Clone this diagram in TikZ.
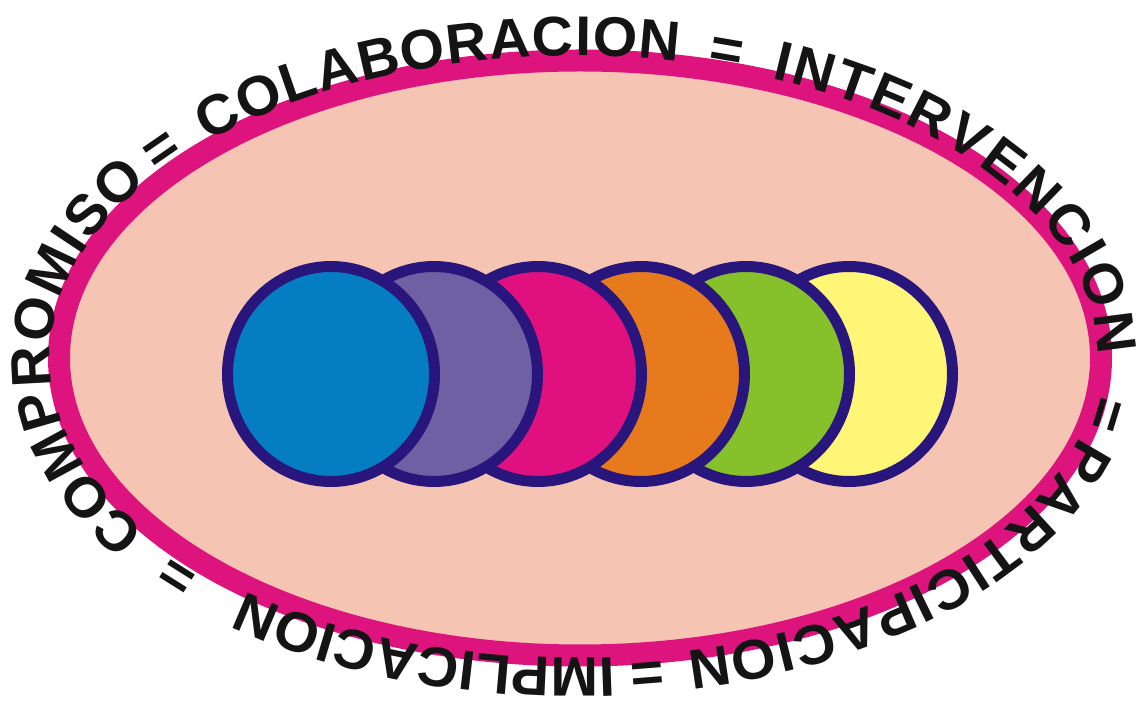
\documentclass[tikz,border=0pt]{standalone}
\usepackage{fontspec}
\setmainfont{Liberation Sans}
\newfontfamily\ringfont[FakeStretch=1.02]{Liberation Sans}
\newcommand\ringtext{\ringfont\fontsize{56}{56}\selectfont\bfseries}
\usetikzlibrary{shapes.geometric,decorations.text}
\definecolor{salmon}{RGB}{245,196,178}
\definecolor{rim}{RGB}{222,20,126}
\definecolor{navy}{RGB}{40,22,125}
\definecolor{cblue}{RGB}{5,125,195}
\definecolor{cpurple}{RGB}{110,96,162}
\definecolor{cmagenta}{RGB}{224,17,126}
\definecolor{corange}{RGB}{232,122,30}
\definecolor{cgreen}{RGB}{134,192,42}
\definecolor{cyellow}{RGB}{255,245,118}
\definecolor{ink}{RGB}{20,20,20}
% one piece of the ring text: start angle, end angle (clockwise), text, alignment
\newcommand\ringpiece[4]{%
  \path[decorate, decoration={text along path, text color=ink, text align={#4},
    text={|\ringtext|#3}}]
    (c) ++(#1:524pt and 301pt) arc[start angle=#1, end angle=#2, x radius=524pt, y radius=301pt];}
\begin{document}
\begin{tikzpicture}[x=1pt,y=1pt,
  disc/.style={ellipse, draw=navy, line width=11pt, minimum width=207pt, minimum height=215pt, inner sep=0pt},
  frame/.style={ellipse, draw=rim, fill=salmon, line width=22pt, minimum width=1042pt, minimum height=595pt, inner sep=0pt}]
\useasboundingbox (0,0) rectangle (1143,707);
\fill[white] (0,0) rectangle (1143,707);
\node[frame] (oval) at (580,349) {};
\coordinate (c) at (574,350);
\node[disc, fill=cyellow]  (d6) at (849,333) {};
\node[disc, fill=cgreen]   (d5) at (746,333) {};
\node[disc, fill=corange]  (d4) at (641,333) {};
\node[disc, fill=cmagenta] (d3) at (538,333) {};
\node[disc, fill=cpurple]  (d2) at (434,333) {};
\node[disc, fill=cblue]    (d1) at (331,333) {};
\ringpiece{215.3}{144.5}{COMPROMISO}{fit to path}
\ringpiece{144.3}{136.3}{=}{center}
\ringpiece{134.3}{78.5}{COLABORACION}{fit to path}
\ringpiece{76.4}{70.4}{=}{center}
\ringpiece{67.9}{0.3}{INTERVENCION}{fit to path}
\ringpiece{-5.9}{-13.9}{=}{center}
\ringpiece{-15.2}{-77.6}{PARTICIPACION}{fit to path}
\ringpiece{-79.1}{-85.1}{=}{center}
\ringpiece{-85.6}{-129.0}{IMPLICACION}{fit to path}
\ringpiece{-134.1}{-141.1}{=}{center}
\end{tikzpicture}
\end{document}
